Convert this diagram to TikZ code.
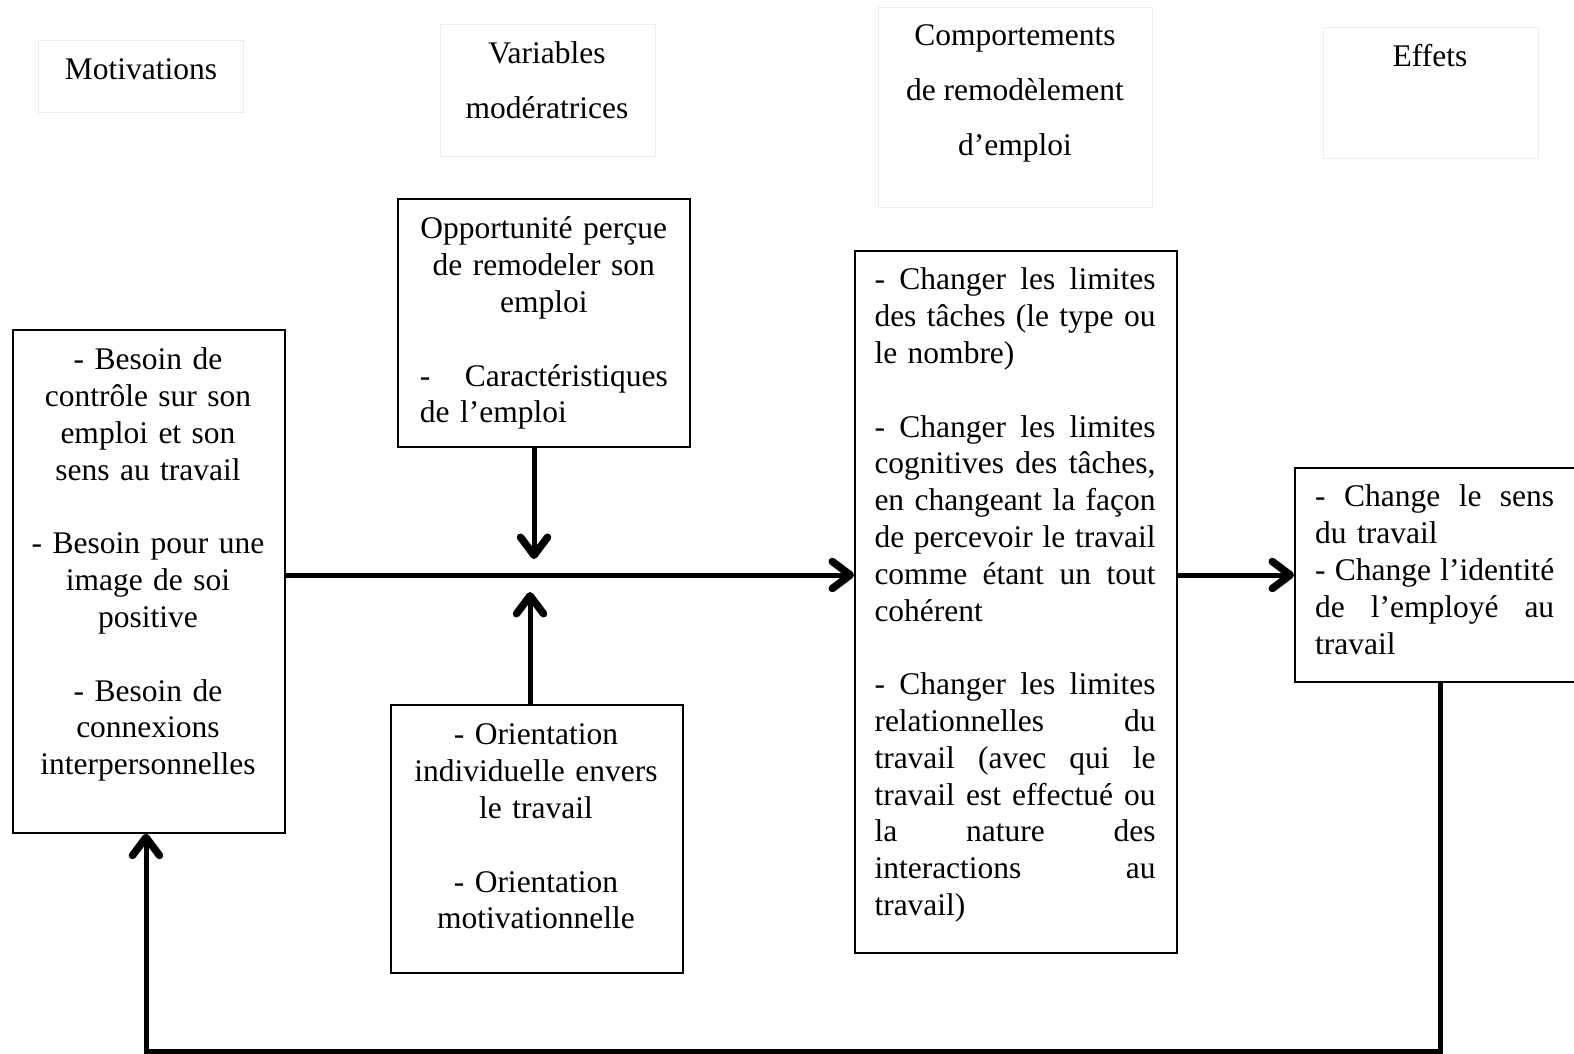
\documentclass[tikz,border=0pt]{standalone}
\usepackage{fontspec}
\setmainfont{Liberation Serif}
\usetikzlibrary{arrows.meta}
\newcommand\bodyfont{\fontsize{31.5}{36.8}\selectfont}
\newcommand\hdrfont{\fontsize{31.5}{55.2}\selectfont}
\newcommand\jl[2]{\leavevmode\hbox to #1{#2}}
\tikzset{
  hdrbox/.style={draw=black!7, line width=1.2pt, inner sep=0pt, anchor=north west},
  mainbox/.style={draw=black, line width=1.7pt, inner sep=0pt, anchor=north west, fill=white},
  bodytxt/.style={inner sep=0pt, font=\bodyfont},
  hdrtxt/.style={inner sep=0pt, font=\hdrfont, align=center, anchor=north},
  thickarr/.style={line width=5pt, line join=miter, -{Straight Barb[length=18pt,width=27pt,line width=7.5pt,line cap=round,line join=round]}},
}
\begin{document}
\begin{tikzpicture}[x=1pt,y=-1pt]
\useasboundingbox (0,0) rectangle (1574,1054);
% header boxes
\node[hdrbox, minimum width=205, minimum height=72] (hmot) at (38,40) {};
\node[hdrbox, minimum width=215, minimum height=132] (hvar) at (440,24) {};
\node[hdrbox, minimum width=274, minimum height=200] (hcomp) at (878,7) {};
\node[hdrbox, minimum width=215, minimum height=131] (heff) at (1323,27) {};
\node[hdrtxt] (tmot) at (141,41) {\strut Motivations};
\node[hdrtxt] (tvar) at (547,24.4) {\strut Variables\\ modératrices};
\node[hdrtxt] (tcomp) at (1015,6.4) {\strut Comportements\\ de remodèlement\\ d’emploi};
\node[hdrtxt] (teff) at (1430,27.6) {\strut Effets};
% main boxes
\node[mainbox, minimum width=272, minimum height=503] (mot) at (12,329) {};
\node[mainbox, minimum width=292, minimum height=248] (opp) at (397,198) {};
\node[mainbox, minimum width=292, minimum height=268] (ori) at (390,704) {};
\node[mainbox, minimum width=322, minimum height=702] (chg) at (854,250) {};
\node[mainbox, minimum width=290, minimum height=214] (eff) at (1294,467) {};
% texts
\node[bodytxt, text width=262, align=center, anchor=north] (tm) at (148,344) {\strut - Besoin de\\ contrôle sur son\\ emploi et son\\ sens au travail\\[36.8pt] - Besoin pour une\\ image de soi\\ positive\\[36.8pt] - Besoin de\\ connexions\\ interpersonnelles};
\node[bodytxt, text width=248, align=left, anchor=north west] (to) at (419.6,213) {\strut\makebox[248pt][c]{Opportunité perçue}\\ \makebox[248pt][c]{de remodeler son}\\ \makebox[248pt][c]{emploi}\\[36.8pt] \jl{248pt}{-\hfill Caractéristiques}\\ de l’emploi};
\node[bodytxt, text width=280, align=center, anchor=north] (tr) at (536,719) {\strut - Orientation\\ individuelle envers\\ le travail\\[36.8pt] - Orientation\\ motivationnelle};
\node[bodytxt, text width=281, align=left, anchor=north west] (tc) at (874.3,264) {\strut\jl{281pt}{-\hfill Changer\hfill les\hfill limites}\\ \jl{281pt}{des\hfill tâches\hfill (le\hfill type\hfill ou}\\ le nombre)\\[36.8pt] \jl{281pt}{-\hfill Changer\hfill les\hfill limites}\\ \jl{281pt}{cognitives\hfill des\hfill tâches,}\\ \jl{281pt}{en\hfill changeant\hfill la\hfill façon}\\ \jl{281pt}{de\hfill percevoir\hfill le\hfill travail}\\ \jl{281pt}{comme\hfill étant\hfill un\hfill tout}\\ cohérent\\[36.8pt] \jl{281pt}{-\hfill Changer\hfill les\hfill limites}\\ \jl{281pt}{relationnelles\hfill du}\\ \jl{281pt}{travail\hfill (avec\hfill qui\hfill le}\\ \jl{281pt}{travail\hfill est\hfill effectué\hfill ou}\\ \jl{281pt}{la\hfill nature\hfill des}\\ \jl{281pt}{interactions\hfill au}\\ travail)};
\node[bodytxt, text width=239, align=left, anchor=north west] (te) at (1315,481) {\strut\jl{239pt}{-\hfill Change\hfill le\hfill sens}\\ du travail\\ \jl{239pt}{-\hfill Change\hfill l’identité}\\ \jl{239pt}{de\hfill l’employé\hfill au}\\ travail};
% connector coordinates
\coordinate (j) at (0,575);
\coordinate (dj) at (534,559);
\coordinate (uj) at (530,592);
\coordinate (fb1) at (1440,1051);
\coordinate (fb2) at (146,1051);
% connectors
\draw[thickarr] (mot.east |- j) -- (chg.west |- j);
\draw[thickarr] (dj |- opp.south) -- (dj);
\draw[thickarr] (uj |- ori.north) -- (uj);
\draw[thickarr] (chg.east |- j) -- (eff.west |- j);
\draw[thickarr] (fb1 |- eff.south) -- (fb1) -- (fb2) -- (fb2 |- mot.south);
\end{tikzpicture}
\end{document}
